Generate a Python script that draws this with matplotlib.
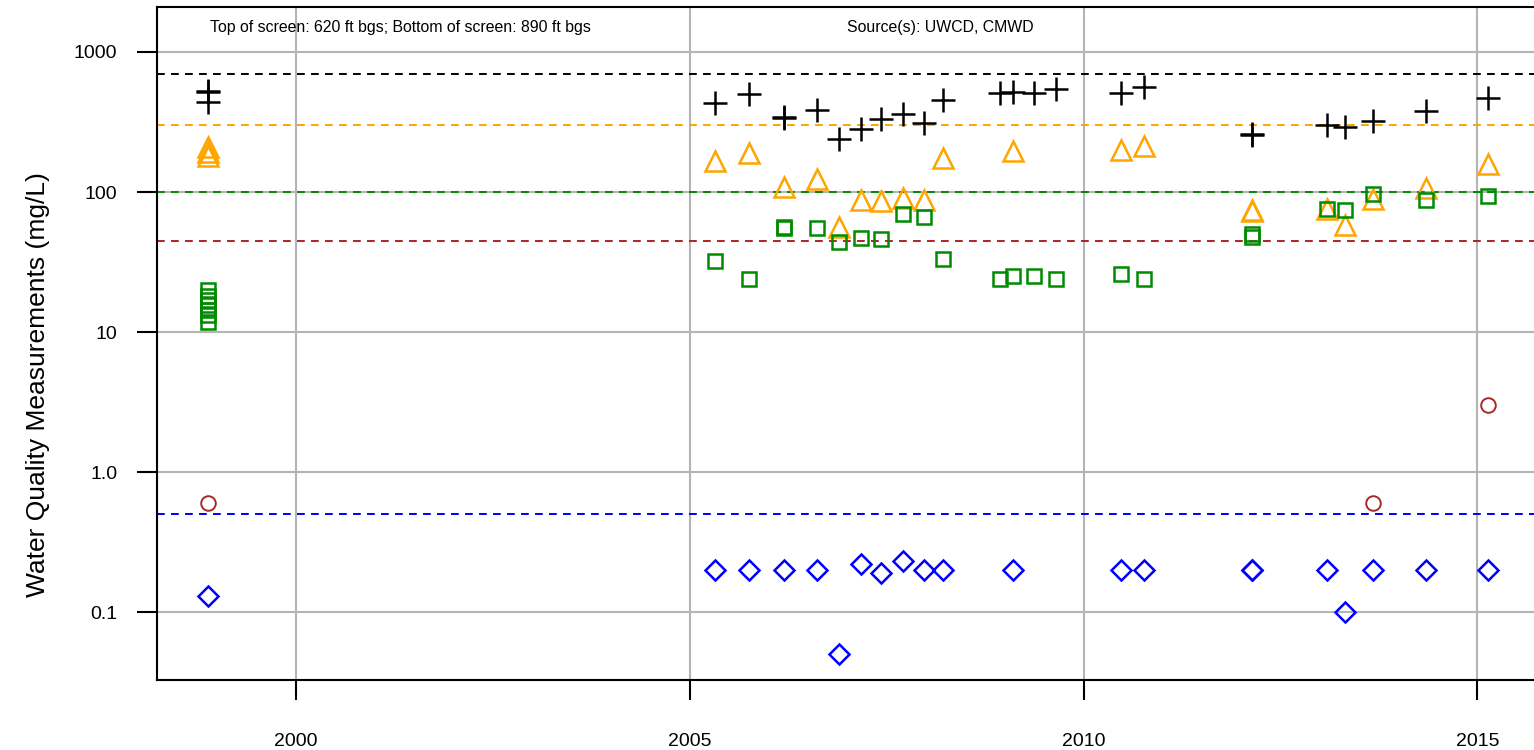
import matplotlib
matplotlib.use("Agg")
import matplotlib.pyplot as plt

plt.rcParams['font.family'] = ['Liberation Sans', 'DejaVu Sans']

# sample dates (decimal years) and measured values, one pair of lists per constituent
tds_dates = [1998.88, 1998.88, 1998.88, 2005.32, 2005.75, 2006.20, 2006.20, 2006.61, 2006.89,
             2007.18, 2007.43, 2007.71, 2007.97, 2008.21, 2008.94, 2009.11, 2009.37, 2009.65,
             2010.48, 2010.77, 2012.14, 2012.14, 2013.09, 2013.32, 2013.67, 2014.35, 2015.14]
tds_vals = [520, 530, 440, 430, 500, 340, 345, 385, 240,
            280, 330, 360, 310, 455, 510, 520, 510, 540,
            510, 560, 255, 260, 300, 290, 320, 380, 470]

so4_dates = [1998.88, 1998.88, 1998.88, 2005.32, 2005.75, 2006.20, 2006.61, 2006.89, 2007.18,
             2007.43, 2007.71, 2007.97, 2008.21, 2009.11, 2010.48, 2010.77, 2012.14, 2012.14,
             2013.09, 2013.32, 2013.67, 2014.35, 2015.14]
so4_vals = [210, 193, 181, 167, 191, 108, 124, 56, 88,
            86, 90, 88, 175, 195, 199, 214, 74, 73,
            76, 58, 89, 107, 159]

cl_dates = [1998.88, 1998.88, 1998.88, 1998.88, 1998.88, 1998.88, 1998.88, 2005.32, 2005.75,
            2006.20, 2006.20, 2006.61, 2006.89, 2007.18, 2007.43, 2007.71, 2007.97, 2008.21,
            2008.94, 2009.11, 2009.37, 2009.65, 2010.48, 2010.77, 2012.14, 2012.14,
            2013.09, 2013.32, 2013.67, 2014.35, 2015.14]
cl_vals = [20, 18, 17, 15.6, 14.4, 13.2, 11.8, 32, 24,
           55, 56, 55, 44, 47, 46, 70, 66, 33,
           24, 25, 25, 24, 26, 24, 48, 50,
           76, 74, 97, 88, 94]

no3_dates = [1998.88, 2013.67, 2015.14]
no3_vals = [0.6, 0.6, 3.0]

b_dates = [1998.88, 2005.32, 2005.75, 2006.20, 2006.61, 2006.89, 2007.18, 2007.43, 2007.71,
           2007.97, 2008.21, 2009.11, 2010.48, 2010.77, 2012.14, 2012.14, 2013.09, 2013.32,
           2013.67, 2014.35, 2015.14]
b_vals = [0.13, 0.2, 0.2, 0.2, 0.2, 0.05, 0.22, 0.19, 0.23,
          0.2, 0.2, 0.2, 0.2, 0.2, 0.2, 0.2, 0.2, 0.1,
          0.2, 0.2, 0.2]

# regulatory limits drawn as dashed lines
limit_vals = [700, 300, 100, 45, 0.5]
limit_colors = ['black', '#FFA500', '#008B00', '#B22222', '#0000FF']

year_ticks = [2000, 2005, 2010, 2015]
y_ticks = [0.1, 1, 10, 100, 1000]
y_tick_labels = ['0.1', '1.0', '10', '100', '1000']

fig = plt.figure(figsize=(15.34, 7.5), dpi=100)
ax = fig.add_axes([157 / 1534, 70 / 750, 1 - 157 / 1534, 673 / 750])

ax.set_yscale('log')
ax.set_xlim(1998.234, 2015.72)
ax.set_ylim(0.0327, 2096)

# grid
for yr in year_ticks:
    ax.axvline(yr, color='#B4B4B4', lw=1.5, zorder=0)
for yv in y_ticks:
    ax.axhline(yv, color='#B4B4B4', lw=1.5, zorder=0)

# limits
for val, col in zip(limit_vals, limit_colors):
    ax.axhline(val, color=col, lw=1.4, dashes=(4, 3.2), zorder=1)

ax.plot(tds_dates, tds_vals, ls='none', marker='+', ms=17, mew=1.8, color='black', zorder=3)
ax.plot(so4_dates, so4_vals, ls='none', marker='^', ms=14.5, mew=1.8, mfc='none', mec='#FFA500', zorder=3)
ax.plot(cl_dates, cl_vals, ls='none', marker='s', ms=10.5, mew=1.8, mfc='none', mec='#008B00', zorder=3)
ax.plot(no3_dates, no3_vals, ls='none', marker='o', ms=10.5, mew=1.4, mfc='none', mec='#A52A2A', zorder=3)
ax.plot(b_dates, b_vals, ls='none', marker='D', ms=10.5, mew=1.8, mfc='none', mec='#0000FF', zorder=3)

ax.set_xticks(year_ticks)
ax.set_xticklabels([str(y) for y in year_ticks])
ax.set_yticks(y_ticks)
ax.set_yticklabels(y_tick_labels)
ax.minorticks_off()
ax.tick_params(axis='x', length=14.5, width=1.5, pad=24, labelsize=14)
ax.tick_params(axis='y', length=14.5, width=1.5, pad=14, labelsize=14)

for side in ['left', 'top', 'bottom']:
    ax.spines[side].set_linewidth(1.5)
ax.spines['right'].set_visible(False)

ax.text(0.1765, 0.970, 'Top of screen: 620 ft bgs; Bottom of screen: 890 ft bgs',
        transform=ax.transAxes, ha='center', va='center', fontsize=11.4)
ax.text(0.569, 0.970, 'Source(s): UWCD, CMWD',
        transform=ax.transAxes, ha='center', va='center', fontsize=11.4)

fig.text(38 / 1534, 1 - 385 / 750, 'Water Quality Measurements (mg/L)',
         rotation=90, ha='center', va='center', fontsize=19)

fig.savefig('out.png', dpi=100)
